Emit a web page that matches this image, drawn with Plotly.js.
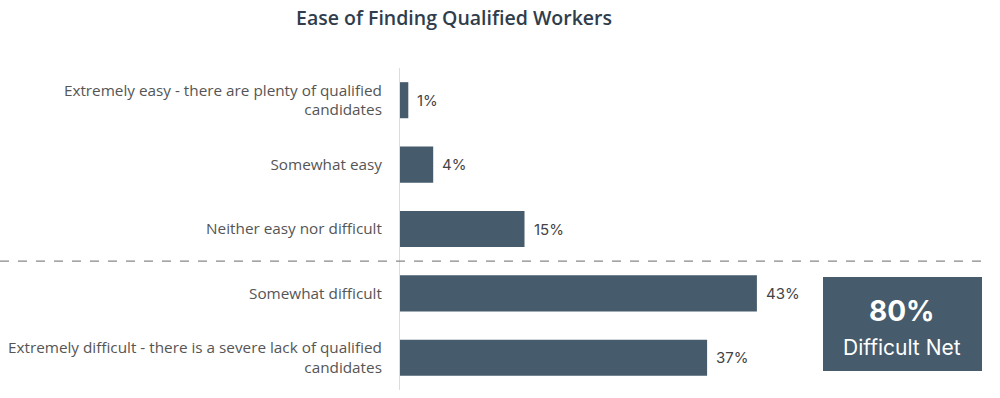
<!DOCTYPE html>
<html>
<head>
<meta charset="utf-8">
<script src="https://cdn.plot.ly/plotly-3.0.1.min.js"></script>
<style>html,body{margin:0;padding:0;background:#fff;}#chart{width:1000px;height:398px;}</style>
</head>
<body>
<div id="chart"></div>
<script>
const categories = [
  "Extremely easy - there are plenty of qualified<br>candidates",
  "Somewhat easy",
  "Neither easy nor difficult",
  "Somewhat difficult",
  "Extremely difficult - there is a severe lack of qualified<br>candidates"
];
const values = [1, 4, 15, 43, 37];
const valueLabels = ["1%", "4%", "15%", "43%", "37%"];
const netValue = "80%";
const netLabel = "Difficult Net";

const barColor = "#465b6b";
const L = 400, R = 1000 - 985, T = 68, B = 8;
const plotW = 1000 - L - R, plotH = 398 - T - B;
const px = x => (x - L) / plotW;
const py = y => (398 - B - y) / plotH;

const trace = {
  type: "bar",
  orientation: "h",
  y: categories,
  x: values,
  marker: {color: barColor},
  width: 0.56,
  hoverinfo: "none"
};

const valueAnnotations = values.map((v, i) => ({
  xref: "x", yref: "y", x: v, y: categories[i], text: valueLabels[i],
  showarrow: false, xanchor: "left", yanchor: "middle", xshift: 7,
  font: {family: "Inter, sans-serif", size: 15, color: "#444"}
}));

const layout = {
  width: 1000, height: 398,
  margin: {l: L, r: R, t: T, b: B},
  paper_bgcolor: "#fff", plot_bgcolor: "#fff",
  showlegend: false,
  title: {
    text: "Ease of Finding Qualified Workers",
    font: {family: "Open Sans, sans-serif", size: 19.5, color: "#2f3d4c", weight: 600},
    xref: "container", x: 0.454, xanchor: "center",
    yref: "container", y: 1 - 18/398, yanchor: "middle"
  },
  xaxis: {range: [0, (985 - 400) / 8.3], visible: false, fixedrange: true},
  yaxis: {
    autorange: "reversed",
    showline: true, linecolor: "#dcdcdc", linewidth: 1,
    showgrid: false, zeroline: false, ticks: "",
    ticklabelstandoff: 14,
    tickfont: {family: "Open Sans, sans-serif", size: 15.3, color: "#555"}
  },
  shapes: [
    {type: "line", xref: "paper", yref: "y", x0: px(0), x1: px(982), y0: 2.5, y1: 2.5,
     line: {color: "#888", width: 1.2, dash: "dash"}},
    {type: "rect", xref: "paper", yref: "paper", x0: px(823), x1: px(982), y0: py(371), y1: py(277),
     fillcolor: barColor, line: {width: 0}, layer: "above"}
  ],
  annotations: valueAnnotations.concat([
    {xref: "paper", yref: "paper", x: px(902), y: py(311), text: netValue, showarrow: false,
     font: {family: "Inter, sans-serif", size: 28, color: "#fff", weight: 700}, xanchor: "center", yanchor: "middle"},
    {xref: "paper", yref: "paper", x: px(902), y: py(347), text: netLabel, showarrow: false,
     font: {family: "Inter, sans-serif", size: 21, color: "#fff"}, xanchor: "center", yanchor: "middle"}
  ]),
  bargap: 0.44
};

Plotly.newPlot("chart", [trace], layout, {displayModeBar: false, staticPlot: true});
</script>
</body>
</html>
